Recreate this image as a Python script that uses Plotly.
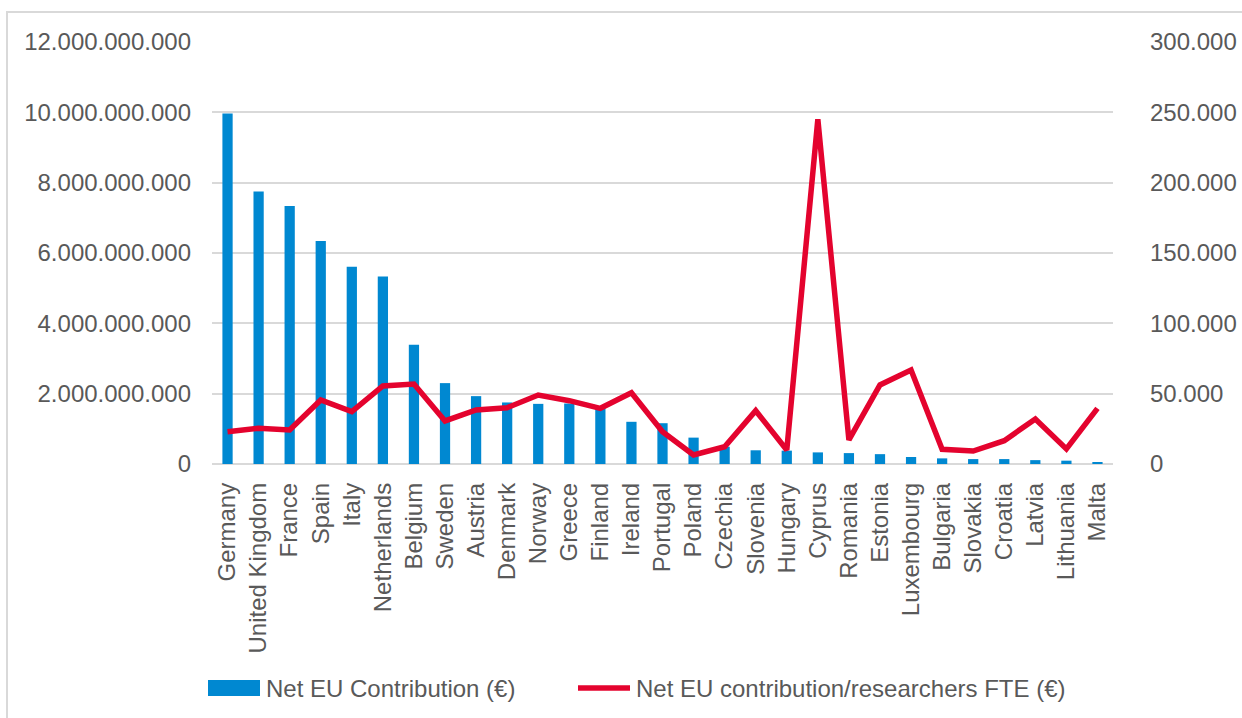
import plotly.graph_objects as go

countries = ["Germany", "United Kingdom", "France", "Spain", "Italy", "Netherlands",
             "Belgium", "Sweden", "Austria", "Denmark", "Norway", "Greece", "Finland",
             "Ireland", "Portugal", "Poland", "Czechia", "Slovenia", "Hungary", "Cyprus",
             "Romania", "Estonia", "Luxembourg", "Bulgaria", "Slovakia", "Croatia",
             "Latvia", "Lithuania", "Malta"]

net_contribution = [9.97e9, 7.75e9, 7.34e9, 6.34e9, 5.61e9, 5.33e9,
                    3.39e9, 2.30e9, 1.93e9, 1.75e9, 1.71e9, 1.72e9, 1.59e9,
                    1.20e9, 1.16e9, 0.75e9, 0.49e9, 0.39e9, 0.38e9, 0.33e9,
                    0.31e9, 0.28e9, 0.20e9, 0.16e9, 0.14e9, 0.14e9,
                    0.11e9, 0.095e9, 0.04e9]

per_researcher = [23000, 25400, 24200, 45500, 37200, 55500,
                  56900, 30600, 38400, 40000, 49000, 45000, 39600,
                  50700, 23000, 6400, 12300, 37900, 10000, 245000,
                  17100, 56200, 66800, 10400, 9200, 16600,
                  32000, 10700, 39600]

left_ticks = [0, 2e9, 4e9, 6e9, 8e9, 10e9, 12e9]
right_ticks = [0, 50000, 100000, 150000, 200000, 250000, 300000]

bar_name = "Net EU Contribution (€)"
line_name = "Net EU contribution/researchers FTE (€)"

FONT = "Liberation Sans, Arial, sans-serif"
GREY = "#595959"
BLUE = "#0088d1"
RED = "#e4032e"

fig = go.Figure()
fig.add_trace(go.Bar(
    x=countries, y=net_contribution, name=bar_name,
    marker=dict(color=BLUE, line=dict(width=0)), yaxis="y", showlegend=False))
fig.add_trace(go.Scatter(
    x=countries, y=per_researcher, name=line_name,
    mode="lines", line=dict(color=RED, width=5.5), yaxis="y2", showlegend=False))

L, R, T, B = 212, 129, 42, 254
W, H = 1242, 718
pw = W - L - R
ph = H - T - B

def px(x):
    return (x - L) / pw

def py(y):
    return (H - B - y) / ph

legend_y = 688
shapes = [
    dict(type="rect", xref="paper", yref="paper",
         x0=px(7), x1=px(1245), y0=py(725), y1=py(12),
         line=dict(color="#d9d9d9", width=2), layer="below"),
    dict(type="rect", xref="paper", yref="paper",
         x0=px(208), x1=px(260), y0=py(legend_y + 8), y1=py(legend_y - 8),
         fillcolor=BLUE, line=dict(width=0)),
    dict(type="line", xref="paper", yref="paper",
         x0=px(578), x1=px(630), y0=py(legend_y), y1=py(legend_y),
         line=dict(color=RED, width=5.5)),
]
annotations = [
    dict(text=bar_name, xref="paper", yref="paper", x=px(264), y=py(legend_y),
         xanchor="left", yanchor="middle", showarrow=False,
         font=dict(family=FONT, size=24, color=GREY)),
    dict(text=line_name, xref="paper", yref="paper", x=px(634), y=py(legend_y),
         xanchor="left", yanchor="middle", showarrow=False,
         font=dict(family=FONT, size=24, color=GREY)),
]

fig.update_layout(
    width=W, height=H,
    margin=dict(l=L, r=R, t=T, b=B, pad=0, autoexpand=False),
    paper_bgcolor="white", plot_bgcolor="white",
    separators=",.",
    font=dict(family=FONT, size=24, color=GREY),
    bargap=0.67,
    showlegend=False,
    xaxis=dict(tickangle=-90, showgrid=False, showline=False, ticks="", automargin=False,
               tickfont=dict(family=FONT, size=24, color=GREY), ticklabelstandoff=13),
    yaxis=dict(range=[0, 12e9], tickvals=left_ticks, tickformat=",.0f", automargin=False,
               showgrid=True, gridcolor="#d9d9d9", gridwidth=1.5,
               zeroline=True, zerolinecolor="#d9d9d9", zerolinewidth=1.5,
               showline=False, ticks="", ticklabelstandoff=20,
               tickfont=dict(family=FONT, size=24, color=GREY)),
    yaxis2=dict(range=[0, 300000], tickvals=right_ticks, tickformat=",.0f", automargin=False,
                overlaying="y", side="right", showgrid=False, zeroline=False,
                showline=False, ticks="", ticklabelstandoff=36,
                tickfont=dict(family=FONT, size=24, color=GREY)),
    shapes=shapes,
    annotations=annotations,
)

fig.write_html("out.html")
